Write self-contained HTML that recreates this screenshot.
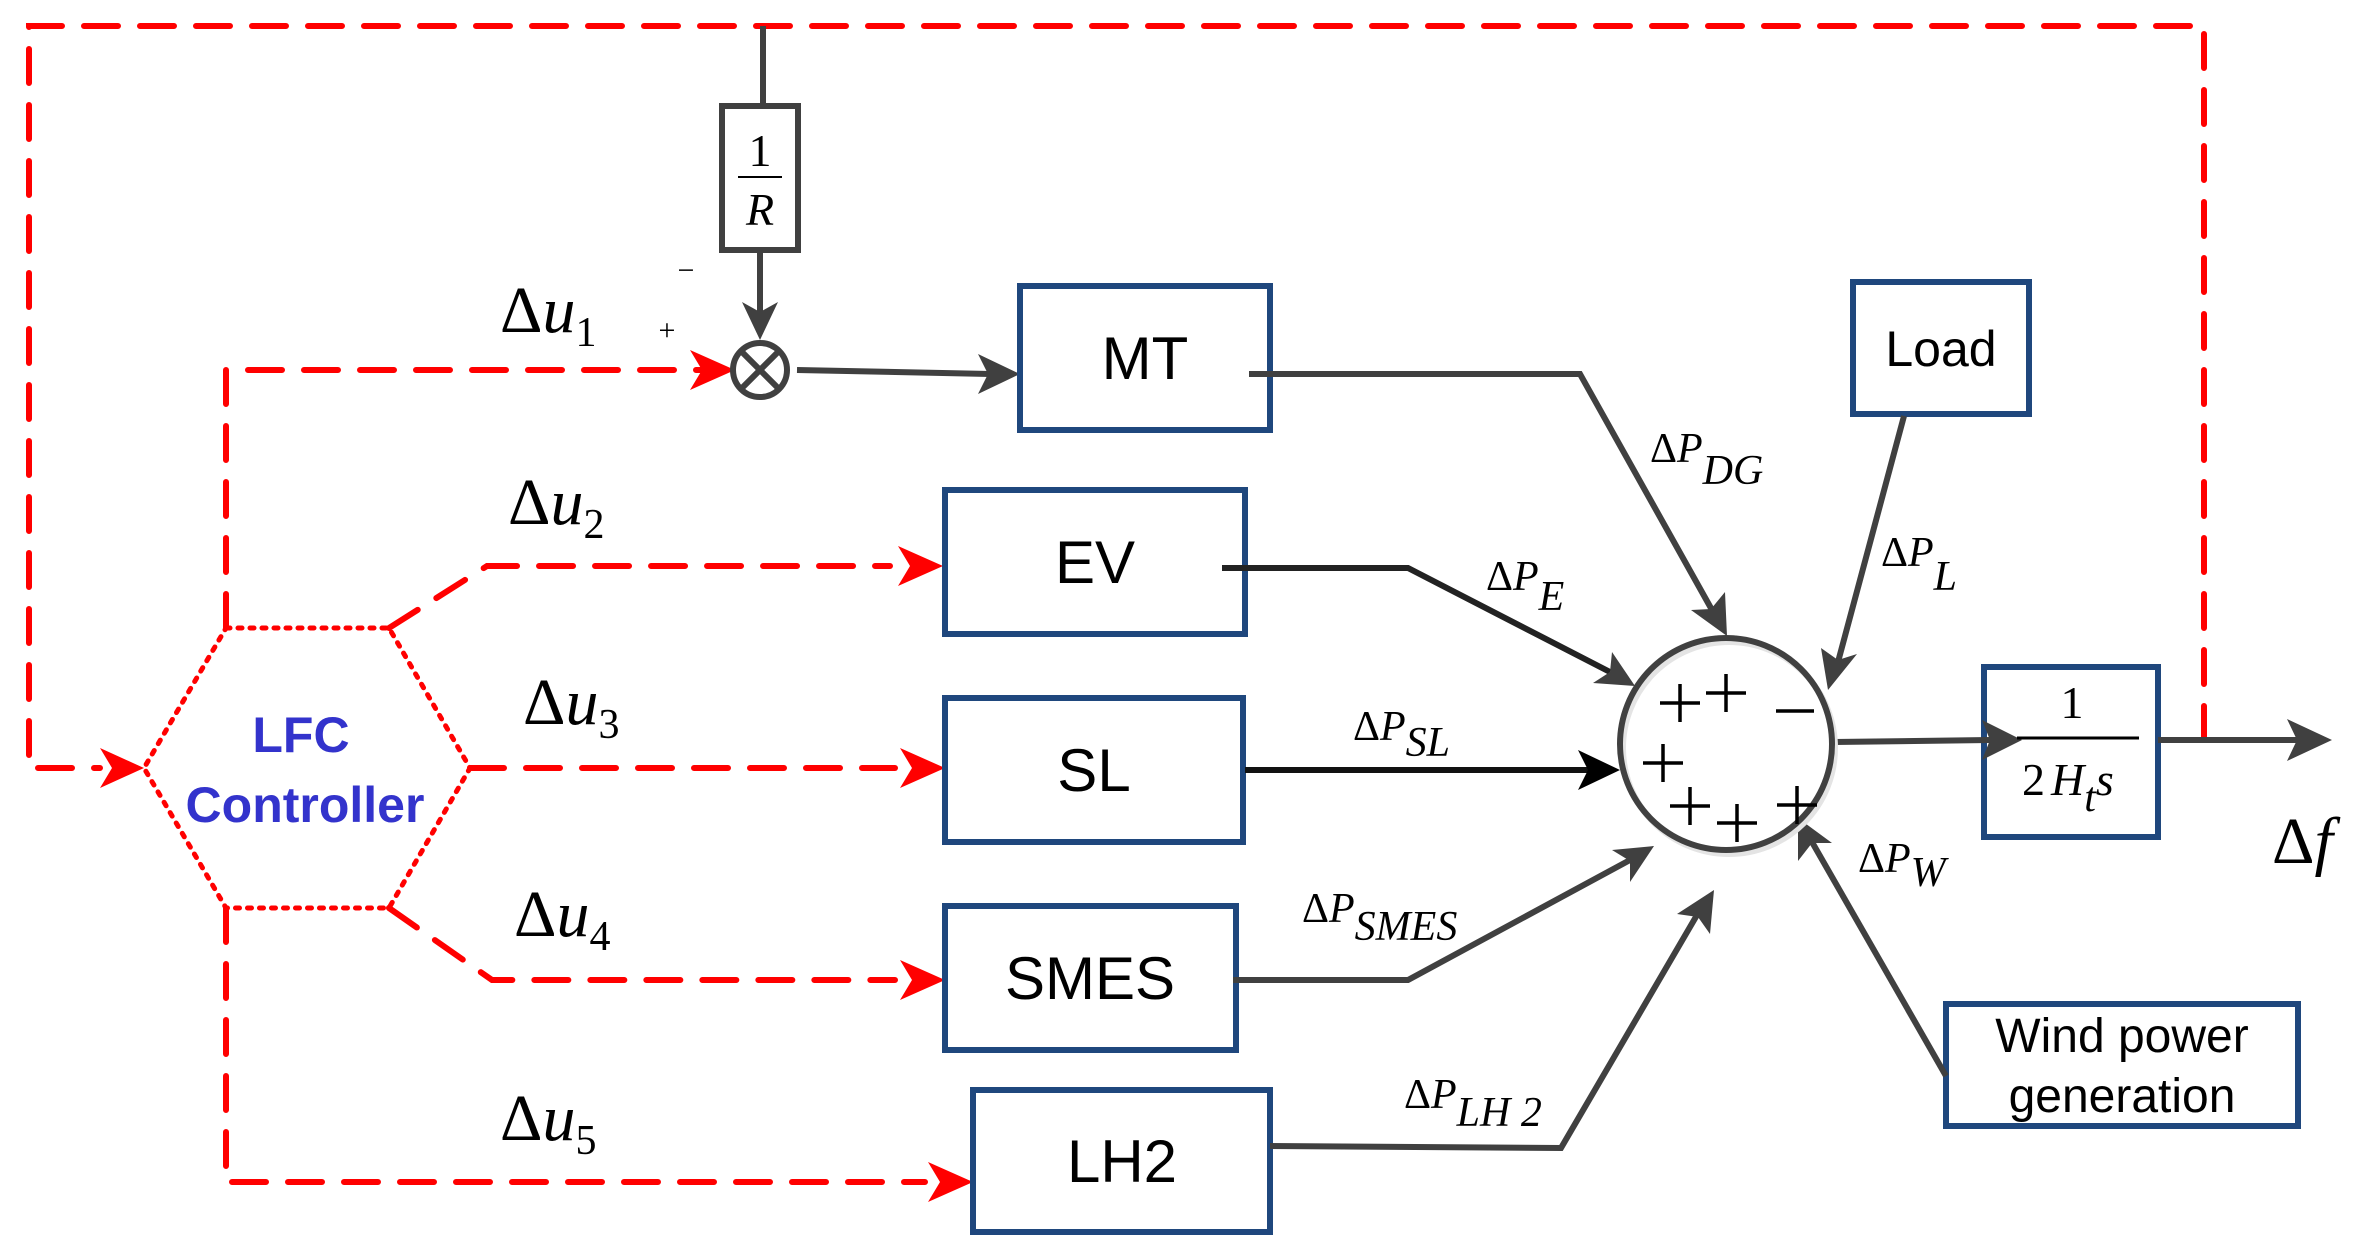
<!DOCTYPE html>
<html><head><meta charset="utf-8"><style>
html,body{margin:0;padding:0;background:#fff;}
svg{display:block;}
.s{font-family:"Liberation Serif",serif;}
.a{font-family:"Liberation Sans",sans-serif;}
</style></head><body>
<svg width="2376" height="1254" viewBox="0 0 2376 1254" xmlns="http://www.w3.org/2000/svg">
<!-- red dashed feedback -->
<g fill="none" stroke="#ff0000" stroke-width="6" stroke-dasharray="34,22" stroke-linecap="round">
<path d="M2204,740 L2204,26 L29,26 L29,768 L100,768"/>
<path d="M226,628 L226,370 L710,370"/>
<path d="M389,628 L487,566 L890,566"/>
<path d="M470,768 L895,768"/>
<path d="M389,908 L492,980 L895,980"/>
<path d="M226,908 L226,1182 L925,1182"/>
</g>
<g fill="#ff0000">
<path d="M144,768 L100,748 L112,768 L100,788 z"/>
<path d="M735,370 L690,350 L702,370 L690,390 z"/>
<path d="M943,566 L898,546 L910,566 L898,586 z"/>
<path d="M945,768 L900,748 L912,768 L900,788 z"/>
<path d="M945,980 L900,960 L912,980 L900,1000 z"/>
<path d="M973,1182 L928,1162 L940,1182 L928,1202 z"/>
</g>
<!-- hexagon -->
<path d="M226,628 L389,628 L470,768 L389,908 L226,908 L144,768 z" fill="none" stroke="#ff0000" stroke-width="5" stroke-dasharray="4,8" stroke-linecap="round"/>
<text x="301" y="752" class="a" font-size="50" font-weight="bold" fill="#3333cc" text-anchor="middle">LFC</text>
<text x="305" y="822" class="a" font-size="50" font-weight="bold" fill="#3333cc" text-anchor="middle">Controller</text>
<!-- 1/R -->
<g stroke="#404040" stroke-width="6" fill="none">
<line x1="763" y1="26" x2="763" y2="106"/>
<rect x="722" y="106" width="76" height="144"/>
<line x1="760" y1="250" x2="760" y2="315"/>
<circle cx="760" cy="370" r="27"/>
<line x1="741" y1="351" x2="779" y2="389"/>
<line x1="779" y1="351" x2="741" y2="389"/>
<line x1="797" y1="370" x2="990" y2="374"/>
</g>
<path d="M760,340 L742,302 L760,312 L778,302 z" fill="#404040"/>
<path d="M1020,374 L978,354 L988,374 L978,394 z" fill="#404040"/>
<text x="760" y="166" class="s" font-size="46" text-anchor="middle">1</text>
<line x1="738" y1="177" x2="782" y2="177" stroke="#000" stroke-width="2"/>
<text x="760" y="225" class="s" font-size="46" font-style="italic" text-anchor="middle">R</text>
<text x="686" y="280" class="s" font-size="30" text-anchor="middle">−</text>
<text x="667" y="340" class="s" font-size="30" text-anchor="middle">+</text>
<!-- delta u labels -->
<g class="s" font-size="66">
<text x="500" y="332">Δ<tspan font-style="italic">u</tspan><tspan font-size="42" dy="14">1</tspan></text>
<text x="508" y="524">Δ<tspan font-style="italic">u</tspan><tspan font-size="42" dy="14">2</tspan></text>
<text x="523" y="724">Δ<tspan font-style="italic">u</tspan><tspan font-size="42" dy="14">3</tspan></text>
<text x="514" y="936">Δ<tspan font-style="italic">u</tspan><tspan font-size="42" dy="14">4</tspan></text>
<text x="500" y="1140">Δ<tspan font-style="italic">u</tspan><tspan font-size="42" dy="14">5</tspan></text>
</g>
<!-- blocks -->
<g fill="#fff" stroke="#1f477d" stroke-width="6">
<rect x="1020" y="286" width="250" height="144"/>
<rect x="945" y="490" width="300" height="144"/>
<rect x="945" y="698" width="298" height="144"/>
<rect x="945" y="906" width="291" height="144"/>
<rect x="973" y="1090" width="297" height="142"/>
<rect x="1853" y="282" width="176" height="132"/>
<rect x="1946" y="1004" width="352" height="122"/>
<rect x="1984" y="667" width="174" height="170"/>
</g>
<g class="a" font-size="60" text-anchor="middle" fill="#000">
<text x="1145" y="379">MT</text>
<text x="1095" y="583">EV</text>
<text x="1094" y="791">SL</text>
<text x="1090" y="999">SMES</text>
<text x="1122" y="1182">LH2</text>
<text x="1941" y="366" font-size="50">Load</text>
<text x="2122" y="1052" font-size="48">Wind power</text>
<text x="2122" y="1112" font-size="48">generation</text>
</g>
<!-- grey connectors -->
<g stroke="#404040" stroke-width="6" fill="none">
<path d="M1249,374 L1580,374 L1712,610"/>
<path d="M1222,568 L1408,568 L1610,672" stroke="#222"/>
<path d="M1245,770 L1590,770" stroke="#111"/>
<path d="M1233,980 L1408,980 L1630,860"/>
<path d="M1270,1146 L1561,1148 L1697,915"/>
<path d="M1904,416 L1838,662"/>
<path d="M1946,1076 L1812,842"/>
<path d="M1834,742 L1990,740"/>
<path d="M2158,740 L2300,740"/>
</g>
<g fill="#404040">
<path d="M1727,636 L1691,610 L1711,609 L1725,592 z"/>
<path d="M1635,686 L1593,683 L1610,672 L1612,652 z"/>
<path d="M1620,770 L1578,750 L1588,770 L1578,790 z" fill="#000"/>
<path d="M1654,846 L1630,882 L1630,861 L1612,850 z"/>
<path d="M1714,890 L1710,934 L1698,917 L1677,914 z"/>
<path d="M1828,690 L1821,648 L1838,660 L1857,654 z"/>
<path d="M1798,818 L1832,843 L1812,843 L1798,861 z"/>
<path d="M2022,740 L1982,720 L1990,740 L1982,760 z"/>
<path d="M2332,740 L2287,719 L2297,740 L2287,761 z"/>
</g>
<!-- sum circle -->
<circle cx="1729" cy="748" r="106" fill="none" stroke="#e4e4e4" stroke-width="6"/>
<circle cx="1726" cy="744" r="106" fill="none" stroke="#404040" stroke-width="6"/>
<g stroke="#000" stroke-width="3.5">
<path d="M1660,703 h40 M1680,684 v38"/>
<path d="M1706,693 h40 M1726,674 v38"/>
<path d="M1776,711 h38"/>
<path d="M1643,763 h40 M1663,744 v38"/>
<path d="M1670,806 h40 M1690,787 v38"/>
<path d="M1717,823 h40 M1737,804 v38"/>
<path d="M1777,805 h40 M1797,786 v38"/>
</g>
<!-- transfer fn -->
<text x="2072" y="718" class="s" font-size="46" text-anchor="middle">1</text>
<line x1="2017" y1="738" x2="2139" y2="738" stroke="#000" stroke-width="3"/>
<text x="2022" y="795" class="s" font-size="46">2<tspan font-style="italic" dx="6">H</tspan><tspan font-style="italic" font-size="42" dy="16">t</tspan><tspan font-style="italic" dy="-16">s</tspan></text>
<text x="2272" y="863" class="s" font-size="66">Δ<tspan font-style="italic">f</tspan></text>
<!-- delta P labels -->
<g class="s" font-size="42" fill="#000">
<text x="1650" y="462">Δ<tspan font-style="italic">P</tspan><tspan font-style="italic" dy="22">DG</tspan></text>
<text x="1486" y="590">Δ<tspan font-style="italic">P</tspan><tspan font-style="italic" dy="20">E</tspan></text>
<text x="1353" y="740">Δ<tspan font-style="italic">P</tspan><tspan font-style="italic" dy="16">SL</tspan></text>
<text x="1302" y="922">Δ<tspan font-style="italic">P</tspan><tspan font-style="italic" dy="18">SMES</tspan></text>
<text x="1404" y="1108">Δ<tspan font-style="italic">P</tspan><tspan font-style="italic" dy="18">LH 2</tspan></text>
<text x="1881" y="566">Δ<tspan font-style="italic">P</tspan><tspan font-style="italic" dy="24">L</tspan></text>
<text x="1858" y="872">Δ<tspan font-style="italic">P</tspan><tspan font-style="italic" dy="14">W</tspan></text>
</g>
</svg>
</body></html>
